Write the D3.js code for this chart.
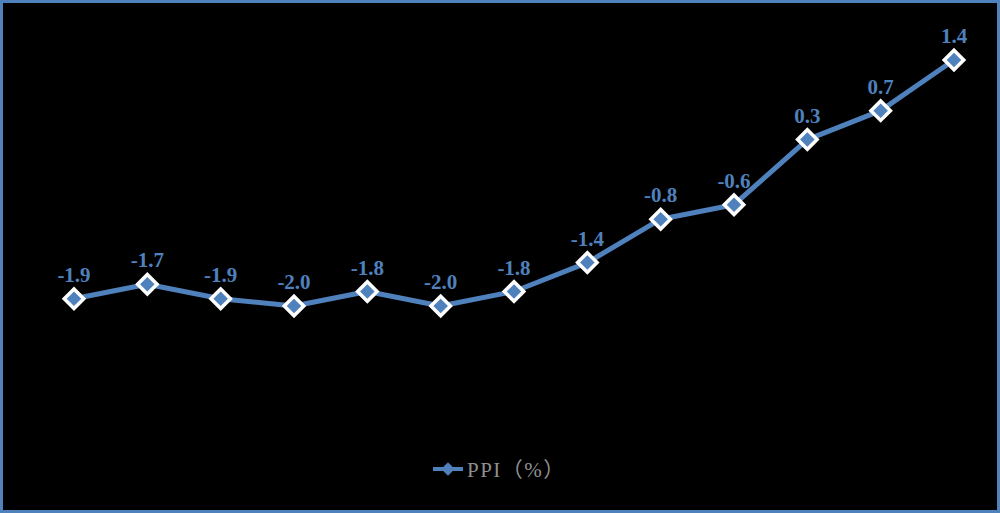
<!DOCTYPE html>
<html><head><meta charset="utf-8">
<script src="https://cdn.jsdelivr.net/npm/d3@7"></script>
<style>html,body{margin:0;padding:0;background:#000;}</style>
</head><body>
<svg id="c" width="1000" height="513"></svg>
<script>
const categories = ["1","2","3","4","5","6","7","8","9","10","11","12","13"];
const ppiValues = [-1.9,-1.7,-1.9,-2.0,-1.8,-2.0,-1.8,-1.4,-0.8,-0.6,0.3,0.7,1.4];
const seriesName = "PPI（%）";

const svg = d3.select("#c");
const W = 1000, H = 513;
const blue = "#4F81BD";
svg.append("rect").attr("x",1.5).attr("y",1.5).attr("width",W-3).attr("height",H-3)
  .attr("fill","#000").attr("stroke",blue).attr("stroke-width",3);

const x = d3.scalePoint().domain(categories).range([74,954]);
const y = d3.scaleLinear().domain([-2.0,1.4]).range([306,60]);

const line = d3.line().x((d,i)=>x(categories[i])).y(d=>y(d));
svg.append("path").datum(ppiValues).attr("d",line).attr("fill","none")
  .attr("stroke",blue).attr("stroke-width",5).attr("stroke-linejoin","round");

svg.selectAll("path.m").data(ppiValues).join("path").attr("class","m")
  .attr("transform",(d,i)=>`translate(${x(categories[i])},${y(d)}) rotate(45)`)
  .attr("d",d3.symbol().type(d3.symbolSquare).size(190))
  .attr("fill",blue).attr("stroke","#fff").attr("stroke-width",3.5);

svg.selectAll("text.l").data(ppiValues).join("text").attr("class","l")
  .attr("x",(d,i)=>x(categories[i])).attr("y",d=>y(d)-17)
  .attr("text-anchor","middle")
  .attr("font-family","'Liberation Serif','Times New Roman',serif")
  .attr("font-weight","bold").attr("font-size",21).attr("fill",blue)
  .text(d=>d.toFixed(1));

// legend
const lg = svg.append("g").attr("transform","translate(433,469)");
lg.append("line").attr("x1",0).attr("x2",30).attr("y1",0).attr("y2",0)
  .attr("stroke",blue).attr("stroke-width",4);
lg.append("path").attr("transform","translate(15,0) rotate(45)")
  .attr("d",d3.symbol().type(d3.symbolSquare).size(90)).attr("fill",blue);
lg.append("text").attr("x",34).attr("y",8)
  .attr("font-family","'Liberation Serif','Noto Sans CJK SC',serif")
  .attr("font-size",21).attr("letter-spacing",1.5).attr("fill","#909090").text(seriesName);
</script>
</body></html>
